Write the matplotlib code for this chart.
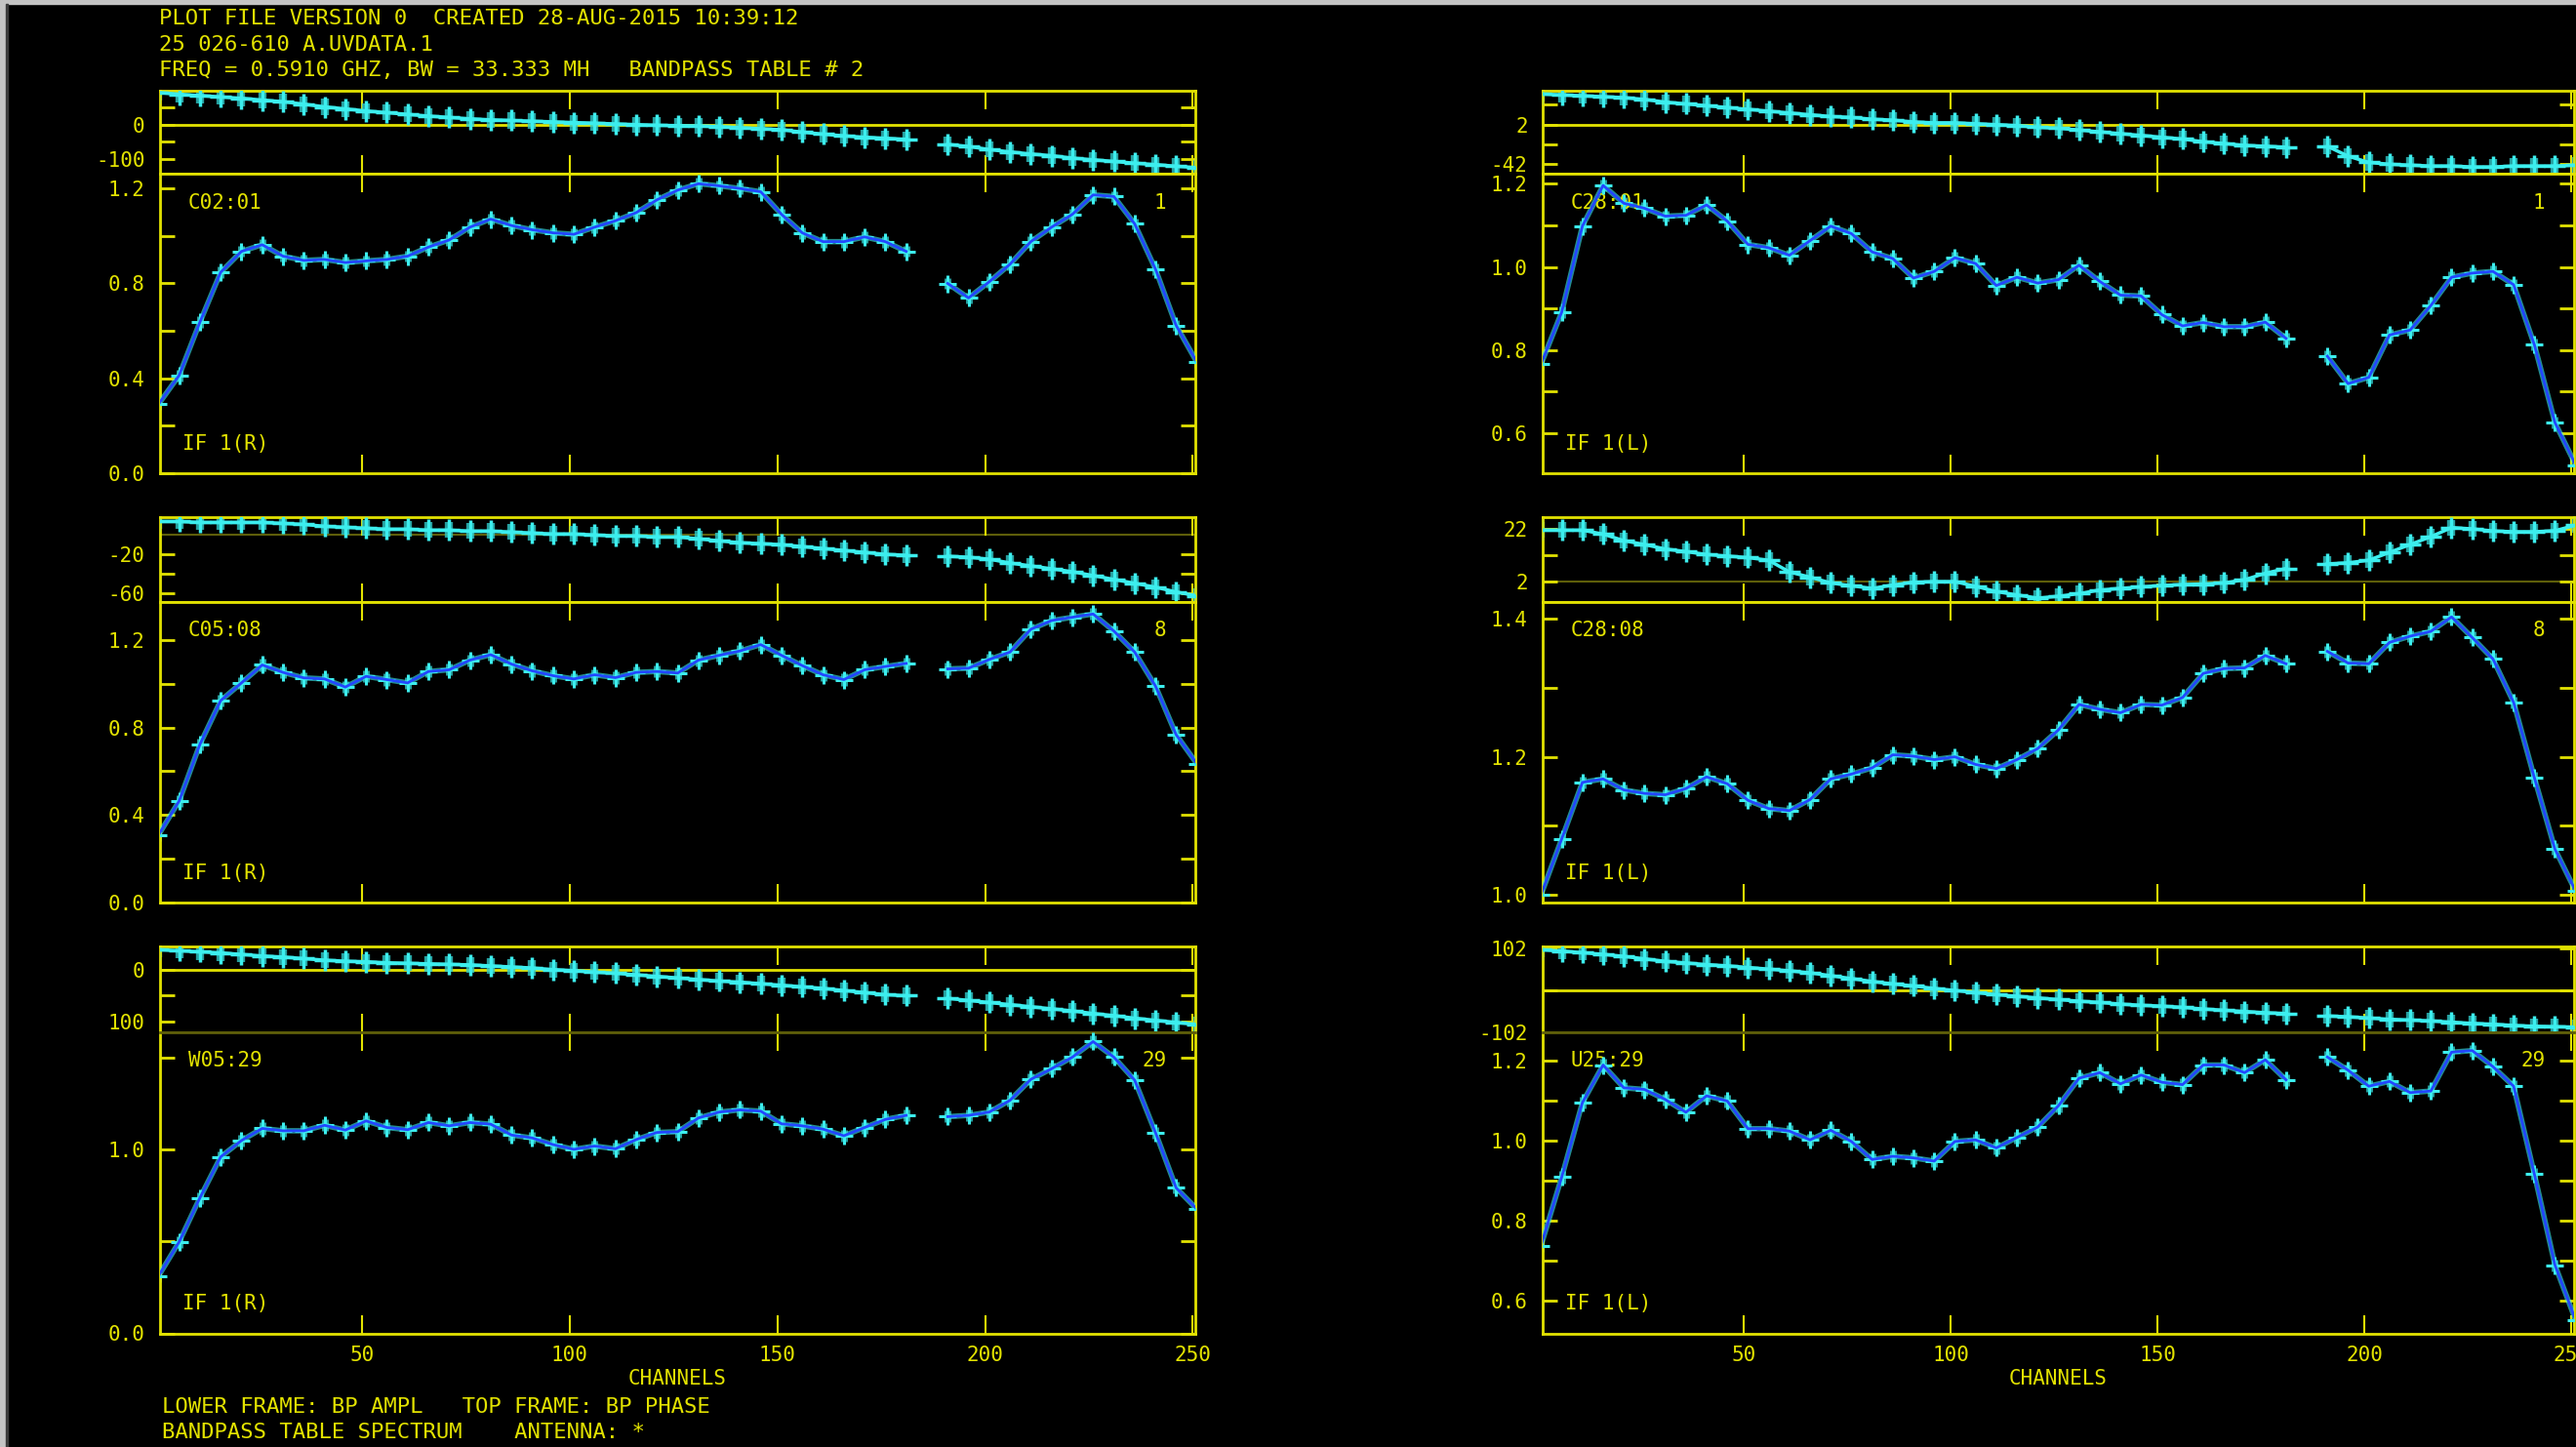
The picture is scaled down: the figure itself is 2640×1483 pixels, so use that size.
#Grafica de pasabanda (BP) estilo AIPS POSSM: fase arriba, amplitud abajo
import matplotlib
matplotlib.use('Agg')
import matplotlib.pyplot as plt
from matplotlib.patches import Rectangle
import numpy as np

nan = np.nan
############################
# Datos (un valor cada 5 canales)
channels = np.arange(1, 252, 5)

amp_c02_01 = [0.290, 0.412, 0.636, 0.846, 0.934, 0.962, 0.914, 0.896, 0.900, 0.887,
              0.894, 0.900, 0.914, 0.952, 0.982, 1.036, 1.070, 1.043, 1.025, 1.012,
              1.006, 1.036, 1.063, 1.097, 1.151, 1.192, 1.219, 1.210, 1.199, 1.185,
              1.090, 1.012, 0.975, 0.975, 0.995, 0.975, 0.934, nan, 0.799, 0.738,
              0.806, 0.880, 0.975, 1.036, 1.090, 1.172, 1.165, 1.050, 0.860, 0.622, 0.467]
phase_c02_01 = [94, 89, 85, 81, 77, 72, 67, 60, 52, 46,
                40, 35, 30, 25, 21, 17, 14, 12, 10, 8,
                6, 4, 2, 0, -2, -3, -4, -6, -9, -12,
                -15, -22, -28, -33, -37, -40, -43, nan, -58, -64,
                -73, -80, -86, -91, -98, -103, -108, -113, -117, -122, -126]

amp_c28_01 = [0.766, 0.891, 1.098, 1.196, 1.153, 1.141, 1.122, 1.124, 1.149, 1.110,
              1.054, 1.046, 1.028, 1.063, 1.098, 1.080, 1.036, 1.020, 0.973, 0.989,
              1.022, 1.008, 0.955, 0.975, 0.961, 0.969, 1.004, 0.965, 0.932, 0.930,
              0.885, 0.858, 0.866, 0.856, 0.856, 0.867, 0.828, nan, 0.785, 0.719,
              0.734, 0.836, 0.848, 0.907, 0.975, 0.985, 0.989, 0.957, 0.813, 0.625, 0.523]
phase_c28_01 = [36, 35, 34, 33, 32, 30, 27, 25, 23, 21,
                19, 17, 15, 13, 11, 10, 8, 7, 5, 4,
                4, 3, 2, 1, -1, -2, -4, -6, -8, -10,
                -12, -14, -17, -19, -21, -22, -23, nan, -22, -33,
                -40, -42, -43, -44, -44, -45, -45, -44, -44, -44, -43]

amp_c05_08 = [0.308, 0.464, 0.723, 0.923, 1.004, 1.086, 1.052, 1.027, 1.022, 0.985,
              1.034, 1.019, 1.004, 1.056, 1.064, 1.108, 1.133, 1.090, 1.059, 1.037,
              1.022, 1.041, 1.028, 1.052, 1.056, 1.049, 1.108, 1.130, 1.150, 1.179,
              1.130, 1.083, 1.041, 1.019, 1.064, 1.079, 1.093, nan, 1.068, 1.071,
              1.111, 1.145, 1.249, 1.289, 1.304, 1.319, 1.241, 1.145, 0.990, 0.767, 0.634]
phase_c05_08 = [14, 14, 13, 13, 13, 13, 12, 11, 9, 8,
                7, 6, 6, 5, 5, 4, 4, 3, 2, 1,
                1, 0, -1, -1, -2, -2, -4, -6, -8, -9,
                -10, -12, -14, -16, -18, -20, -21, nan, -22, -23,
                -25, -29, -32, -35, -38, -42, -46, -50, -54, -59, -63]

amp_c28_08 = [1.000, 1.081, 1.163, 1.168, 1.152, 1.147, 1.145, 1.154, 1.171, 1.161,
              1.137, 1.125, 1.122, 1.138, 1.168, 1.175, 1.184, 1.203, 1.201, 1.196,
              1.200, 1.189, 1.183, 1.196, 1.212, 1.239, 1.276, 1.269, 1.264, 1.276,
              1.275, 1.286, 1.321, 1.328, 1.329, 1.347, 1.335, nan, 1.353, 1.336,
              1.335, 1.366, 1.375, 1.382, 1.403, 1.373, 1.342, 1.279, 1.170, 1.066, 1.005]
phase_c28_08 = [21.5, 21.5, 21.5, 20, 17.5, 16, 14.3, 13.3, 12.2, 11.6,
                11, 10, 5.5, 3.5, 1.3, 0.2, -0.8, 0.5, 1.6, 1.8,
                1.8, 0, -2, -3.3, -4.5, -3.8, -2.8, -1.4, -0.8, -0.2,
                0.3, 0.7, 0.9, 1.3, 2.5, 5, 6.8, nan, 8.6, 9,
                10, 13, 16, 19, 22.5, 22, 21.2, 20.9, 20.9, 21.3, 23.4]

amp_w05_29 = [0.311, 0.498, 0.738, 0.961, 1.050, 1.116, 1.103, 1.103, 1.133, 1.107,
              1.157, 1.121, 1.109, 1.148, 1.130, 1.148, 1.139, 1.080, 1.064, 1.028,
              1.002, 1.020, 1.005, 1.055, 1.094, 1.098, 1.173, 1.205, 1.217, 1.210,
              1.141, 1.130, 1.112, 1.076, 1.121, 1.165, 1.187, nan, 1.180, 1.187,
              1.205, 1.269, 1.383, 1.441, 1.504, 1.589, 1.504, 1.379, 1.094, 0.792, 0.676]
phase_w05_29 = [38, 36, 34, 32, 29, 26, 24, 21, 18, 16,
                15, 13, 12, 11, 10, 9, 7, 5, 3, 0,
                -2, -5, -7, -10, -13, -16, -19, -22, -24, -27,
                -30, -33, -36, -40, -44, -48, -50, nan, -55, -59,
                -63, -67, -71, -75, -79, -84, -88, -93, -97, -101, -105]

amp_u25_29 = [0.738, 0.909, 1.095, 1.189, 1.132, 1.128, 1.103, 1.071, 1.112, 1.099,
              1.030, 1.030, 1.024, 1.002, 1.026, 0.998, 0.953, 0.961, 0.957, 0.949,
              0.998, 1.002, 0.982, 1.008, 1.034, 1.087, 1.156, 1.170, 1.142, 1.164,
              1.146, 1.140, 1.189, 1.189, 1.170, 1.202, 1.152, nan, 1.209, 1.176,
              1.136, 1.148, 1.120, 1.124, 1.221, 1.225, 1.185, 1.136, 0.917, 0.689, 0.551]
phase_u25_29 = [98, 95, 91, 87, 82, 76, 70, 66, 62, 59,
                55, 51, 47, 42, 35, 28, 21, 15, 10, 4,
                -1, -6, -11, -15, -19, -23, -27, -30, -34, -37,
                -39, -42, -46, -49, -52, -55, -57, nan, -63, -65,
                -68, -71, -73, -75, -78, -81, -83, -86, -88, -89, -90]

# errores tipicos (fase en grados, amplitud)
phase_err = [23, 8.7, 8, 3, 15, 19]
amp_err = [0.024, 0.014, 0.027, 0.0085, 0.032, 0.015]

baselines = ['C02:01', 'C28:01', 'C05:08', 'C28:08', 'W05:29', 'U25:29']
antennas = ['1', '1', '8', '8', '29', '29']
pols = ['IF 1(R)', 'IF 1(L)', 'IF 1(R)', 'IF 1(L)', 'IF 1(R)', 'IF 1(L)']
amps = [amp_c02_01, amp_c28_01, amp_c05_08, amp_c28_08, amp_w05_29, amp_u25_29]
phases = [phase_c02_01, phase_c28_01, phase_c05_08, phase_c28_08, phase_w05_29, phase_u25_29]

# ejes: limites, marcas y etiquetas
phase_lim = [(-144.6, 98.3), (-52.8, 39.3), (-69.1, 18.5), (-5.9, 26.5), (-119.4, 44.2), (-102, 106.1)]
phase_ticks = [[50, 0, -50, -100], [24, 2, -20, -42], [-20, -40, -60], [22, 12, 2], [0, -50, -100], [102, 0, -102]]
phase_labels = [['', '0', '', '-100'], ['', '2', '', '-42'], ['-20', '', '-60'], ['22', '', '2'],
                ['0', '', '100'], ['102', '', '-102']]
zero_line = [0, 2, 0, 2, 0, 0]
amp_lim = [(0.0, 1.26), (0.5035, 1.2235), (0.0, 1.375), (0.9887, 1.425), (0.0, 1.641), (0.5188, 1.2714)]
amp_ticks = [[0, .2, .4, .6, .8, 1.0, 1.2], [.6, .7, .8, .9, 1.0, 1.1, 1.2], [0, .2, .4, .6, .8, 1.0, 1.2],
             [1.0, 1.1, 1.2, 1.3, 1.4], [0, .5, 1.0, 1.5], [.6, .7, .8, .9, 1.0, 1.1, 1.2]]
amp_labels = [['0.0', '', '0.4', '', '0.8', '', '1.2'], ['0.6', '', '0.8', '', '1.0', '', '1.2'],
              ['0.0', '', '0.4', '', '0.8', '', '1.2'], ['1.0', '', '1.2', '', '1.4'],
              ['0.0', '', '1.0', ''], ['0.6', '', '0.8', '', '1.0', '', '1.2']]
xticks = [50, 100, 150, 200, 250]
################################
W, H = 2640, 1483
YEL = '#e2e200'
DIM = '#5e5e0a'
CYAN = '#3ceeee'
TEAL = '#30c8c8'
BLUE = '#2246ff'
plt.rcParams['font.family'] = ['DejaVu Sans Mono']
FS = 15

fig = plt.figure(figsize=(W / 100, H / 100), dpi=100, facecolor='black')
fig.patches.append(Rectangle((0, 0), 6 / W, 1, transform=fig.transFigure, color='#c4c4c4', zorder=0))
fig.patches.append(Rectangle((0, 1 - 4 / H), 1, 4 / H, transform=fig.transFigure, color='#c4c4c4', zorder=0))
fig.patches.append(Rectangle((6 / W, 0), 2 / W, 1 - 4 / H, transform=fig.transFigure, color='#3a3a3a', zorder=0))

def box(x0, top, x1, bottom):
    return [x0 / W, 1 - bottom / H, (x1 - x0) / W, (bottom - top) / H]

cols = [(164, 1225), (1581, 2638)]
rows = [(93.3, 178.3, 485), (530, 616.7, 925), (970, 1057.7, 1366.5)]
bright_edge = [True, True, True, True, False, False]
bright_zero = [True, True, False, False, True, True]

def style(ax, labx):
    ax.set_facecolor('black')
    for s in ax.spines.values():
        s.set_color(YEL)
        s.set_linewidth(2)
    ax.set_xlim(1.4, 250.6)
    ax.set_xticks(xticks)
    ax.tick_params(axis='x', direction='in', top=True, bottom=True, length=14, width=1.5,
                   color=YEL, labelbottom=labx, labelcolor=YEL, labelsize=FS, pad=9)
    ax.tick_params(axis='y', direction='in', left=True, right=True, length=11, width=2,
                   color=YEL, labelcolor=YEL, labelsize=FS, pad=11)

for i in range(6):
    c, r = i % 2, i // 2
    x0, x1 = cols[c]
    top, mid, bot = rows[r]
    edge = YEL if bright_edge[i] else DIM

    axp = fig.add_axes(box(x0, top, x1, mid))
    style(axp, False)
    axp.spines['bottom'].set_color(edge)
    axp.set_ylim(*phase_lim[i])
    axp.set_yticks(phase_ticks[i], phase_labels[i])
    axp.axhline(zero_line[i], color=YEL if bright_zero[i] else DIM, lw=2 if bright_zero[i] else 1.5, zorder=1)
    axp.errorbar(channels, phases[i], yerr=phase_err[i], fmt='none', ecolor=TEAL,
                 elinewidth=6, capsize=0, alpha=0.8, zorder=2)
    axp.errorbar(channels, phases[i], yerr=phase_err[i], fmt='+', color=CYAN, ecolor=CYAN,
                 elinewidth=2, ms=16, mew=2.5, capsize=0, zorder=3)
    axp.plot(channels, phases[i], color=CYAN, lw=2.5, zorder=3)

    axa = fig.add_axes(box(x0, mid, x1, bot))
    style(axa, r == 2)
    axa.spines['top'].set_color(edge)
    axa.set_ylim(*amp_lim[i])
    axa.set_yticks(amp_ticks[i], amp_labels[i])
    axa.errorbar(channels, amps[i], yerr=amp_err[i], fmt='none', ecolor=TEAL,
                 elinewidth=5, capsize=0, alpha=0.8, zorder=2)
    axa.errorbar(channels, amps[i], yerr=amp_err[i], fmt='+', color=CYAN, ecolor=CYAN,
                 elinewidth=2, ms=13, mew=2.2, capsize=0, zorder=3)
    axa.plot(channels, amps[i], color=CYAN, lw=4, alpha=0.6, zorder=3)
    axa.plot(channels, amps[i], color=BLUE, lw=2, zorder=4)
    axa.text(0.027, 0.904, baselines[i], transform=axa.transAxes, color=YEL, fontsize=FS, va='center')
    axa.text(0.972, 0.904, antennas[i], transform=axa.transAxes, color=YEL, fontsize=FS, va='center', ha='right')
    axa.text(0.022, 0.098, pols[i], transform=axa.transAxes, color=YEL, fontsize=FS, va='center')

    if r == 2:
        fig.text((x0 + x1) / 2 / W, 1 - 1413 / H, 'CHANNELS', color=YEL, fontsize=FS, ha='center', va='center')

# textos de cabecera y pie
header = ['PLOT FILE VERSION 0  CREATED 28-AUG-2015 10:39:12',
          '25 026-610 A.UVDATA.1',
          'FREQ = 0.5910 GHZ, BW = 33.333 MH   BANDPASS TABLE # 2']
for txt, y in zip(header, [19, 46, 72]):
    fig.text(163 / W, 1 - y / H, txt, color=YEL, fontsize=16, va='center')
footer = ['LOWER FRAME: BP AMPL   TOP FRAME: BP PHASE',
          'BANDPASS TABLE SPECTRUM    ANTENNA: *']
for txt, y in zip(footer, [1442, 1468]):
    fig.text(166 / W, 1 - y / H, txt, color=YEL, fontsize=16, va='center')

fig.savefig('out.png', dpi=100, facecolor='black')
